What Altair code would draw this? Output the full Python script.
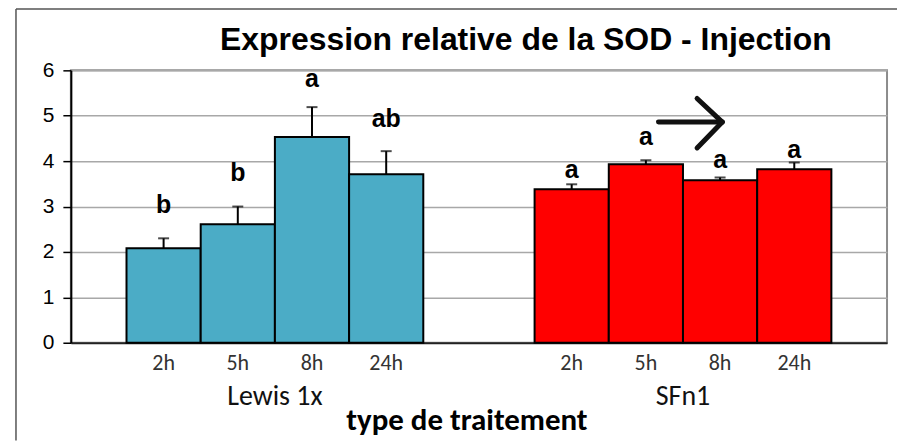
import altair as alt
import pandas as pd

# ---- data ----
groups = ["Lewis 1x", "SFn1"]
times = ["2h", "5h", "8h", "24h"]
means = [[2.08, 2.61, 4.53, 3.71], [3.38, 3.93, 3.58, 3.82]]
err_tops = [[2.30, 3.00, 5.19, 4.22], [3.49, 4.02, 3.64, 3.97]]
letters = [["b", "b", "a", "ab"], ["a", "a", "a", "a"]]
letter_y = [[2.86, 3.56, 5.63, 4.75], [3.63, 4.35, 3.85, 4.07]]
bar_colors = ["#4BACC6", "#FF0000"]
y_ticks = [0, 1, 2, 3, 4, 5, 6]
title_text = "Expression relative de la SOD - Injection"
x_title = "type de traitement"

# arrow annotation segments (data units)
arrow_x1 = [7.92, 8.44, 8.78]
arrow_x2 = [8.78, 8.78, 8.44]
arrow_y1 = [4.86, 5.38, 4.86]
arrow_y2 = [4.86, 4.86, 4.29]

# ---- layout in category units ----
lead_gap = 0.75
group_stride = 5.5
x_max = 11

rows = []
for g, grp in enumerate(groups):
    for i, t in enumerate(times):
        start = lead_gap + g * group_stride + i
        rows.append(dict(group=grp, time=t, start=start, end=start + 1,
                         mid=start + 0.5, mean=means[g][i], err=err_tops[g][i],
                         letter=letters[g][i], ly=letter_y[g][i]))
df = pd.DataFrame(rows)
gdf = pd.DataFrame([dict(group=grp, gx=lead_gap + g * group_stride + len(times) / 2)
                    for g, grp in enumerate(groups)])
adf = pd.DataFrame(dict(x=arrow_x1, x2=arrow_x2, y=arrow_y1, y2=arrow_y2))
one = pd.DataFrame([{"t": title_text, "a": x_title}])

calibri = "Carlito, Lato, sans-serif"

xs = alt.Scale(domain=[0, x_max], nice=False, zero=False)
ys = alt.Scale(domain=[0, 6], nice=False)
xa = alt.Axis(labels=False, ticks=False, grid=False, domainColor="#222",
              domainWidth=2, title=None)
ya = alt.Axis(values=y_ticks, grid=True, gridColor="#a8a8a8", gridWidth=1.5,
              domainColor="black", domainWidth=2, tickColor="black", tickSize=8,
              tickWidth=1.5, labelFont="Arial", labelFontSize=21,
              labelColor="black", labelPadding=9, title=None, format="d")

bars = alt.Chart(df).mark_rect(stroke="black", strokeWidth=2).encode(
    x=alt.X("start:Q", scale=xs, axis=xa),
    x2="end:Q",
    y=alt.Y("mean:Q", scale=ys, axis=ya),
    y2=alt.datum(0),
    color=alt.Color("group:N", scale=alt.Scale(domain=groups, range=bar_colors),
                    legend=None),
)

err = alt.Chart(df).mark_rule(color="black", strokeWidth=2).encode(
    x=alt.X("mid:Q", scale=xs, axis=xa),
    y=alt.Y("mean:Q", scale=ys, axis=ya),
    y2="err:Q",
)

caps = alt.Chart(df).mark_tick(orient="horizontal", size=11, thickness=2,
                               color="black").encode(
    x=alt.X("mid:Q", scale=xs, axis=xa),
    y=alt.Y("err:Q", scale=ys, axis=ya),
)

lett = alt.Chart(df).mark_text(font="Arial", fontSize=25, fontWeight="bold",
                               baseline="alphabetic", color="black").encode(
    x=alt.X("mid:Q", scale=xs, axis=xa),
    y=alt.Y("ly:Q", scale=ys, axis=ya),
    text="letter:N",
)

tick_lbl = alt.Chart(df).mark_text(font=calibri, fontSize=22, color="#333",
                                   baseline="alphabetic").encode(
    x=alt.X("mid:Q", scale=xs, axis=xa),
    y=alt.value(300),
    text="time:N",
)

grp_lbl = alt.Chart(gdf).mark_text(font=calibri, fontSize=28, color="#111",
                                   baseline="alphabetic").encode(
    x=alt.X("gx:Q", scale=xs, axis=xa),
    y=alt.value(335),
    text="group:N",
)

xtitle = alt.Chart(one).mark_text(font=calibri, fontSize=31, fontWeight="bold",
                                  color="black", baseline="alphabetic").encode(
    x=alt.value(397), y=alt.value(360), text="a:N")

title = alt.Chart(one).mark_text(font="Arial", fontSize=32, fontWeight="bold",
                                 color="black", baseline="alphabetic").encode(
    x=alt.value(456), y=alt.value(-20), text="t:N")

arrow = alt.Chart(adf).mark_rule(color="#111", strokeWidth=5, strokeCap="round").encode(
    x=alt.X("x:Q", scale=xs, axis=xa),
    x2="x2:Q",
    y=alt.Y("y:Q", scale=ys, axis=ya),
    y2="y2:Q",
)

frame_top = alt.Chart(one).mark_rule(color="#555", strokeWidth=1.5).encode(
    x=alt.value(-55), x2=alt.value(830), y=alt.value(-61.5))
frame_left = alt.Chart(one).mark_rule(color="#555", strokeWidth=1.5).encode(
    x=alt.value(-55), y=alt.value(-61.5), y2=alt.value(371))

chart = alt.layer(bars, err, caps, lett, tick_lbl, grp_lbl, xtitle, title, arrow,
                  frame_top, frame_left).properties(
    width=818, height=273,
    padding={"left": 63, "top": 62, "right": 10, "bottom": 98},
    autosize=alt.AutoSizeParams(type="none"),
    background="white",
).configure_view(stroke="#8c8c8c", strokeWidth=2)

chart.save("out.html", embed_options={"renderer": "svg", "actions": False})
